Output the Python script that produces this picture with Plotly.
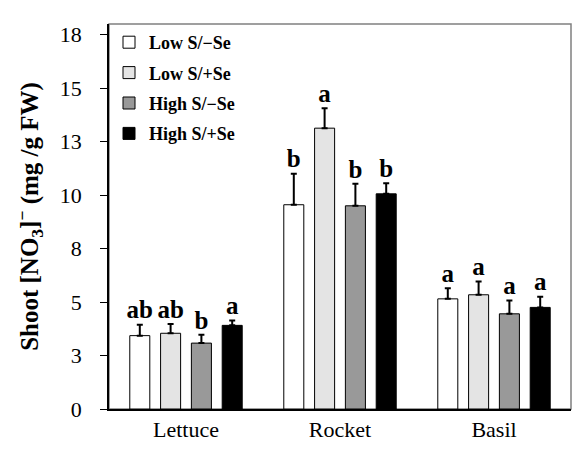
import plotly.graph_objects as go

crops = ['Lettuce', 'Rocket', 'Basil']
treatments = ['Low S/\u2212Se', 'Low S/+Se', 'High S/\u2212Se', 'High S/+Se']
colors = ['#ffffff', '#e4e4e4', '#999999', '#000000']

# mean nitrate (mg/g FW) per treatment, order: Lettuce, Rocket, Basil
low_s_minus_se = [3.43, 9.55, 5.15]
low_s_plus_se = [3.54, 13.13, 5.34]
high_s_minus_se = [3.08, 9.50, 4.45]
high_s_plus_se = [3.91, 10.06, 4.75]

# standard errors
err_low_minus = [0.51, 1.45, 0.50]
err_low_plus = [0.43, 0.93, 0.62]
err_high_minus = [0.39, 1.03, 0.62]
err_high_plus = [0.23, 0.50, 0.50]

# significance letters
let_low_minus = ['ab', 'b', 'a']
let_low_plus = ['ab', 'a', 'a']
let_high_minus = ['b', 'b', 'a']
let_high_plus = ['a', 'b', 'a']

tick_vals = [0, 2.5, 5, 7.5, 10, 12.5, 15, 17.5]
tick_text = ['0', '3', '5', '8', '10', '13', '15', '18']

means = [low_s_minus_se, low_s_plus_se, high_s_minus_se, high_s_plus_se]
errs = [err_low_minus, err_low_plus, err_high_minus, err_high_plus]
letters = [let_low_minus, let_low_plus, let_high_minus, let_high_plus]

serif = 'Liberation Serif, Times New Roman, serif'

fig = go.Figure()
for i, name in enumerate(treatments):
    fig.add_trace(go.Bar(
        x=crops, y=means[i], name=name,
        offsetgroup=str(i), legendgroup=str(i),
        marker=dict(color=colors[i], line=dict(color='black', width=1)),
        error_y=dict(type='data', array=errs[i], arrayminus=[0, 0, 0],
                     symmetric=False, color='black', thickness=2, width=3),
    ))

for i, name in enumerate(treatments):
    fig.add_trace(go.Scatter(
        x=crops, y=[m + e for m, e in zip(means[i], errs[i])],
        mode='text', text=letters[i], textposition='top center',
        textfont=dict(family=serif, size=25, color='black', weight='bold'),
        offsetgroup=str(i), showlegend=False, hoverinfo='skip',
    ))

fig.update_layout(
    width=583, height=456,
    margin=dict(l=101, r=20, t=16, b=55),
    paper_bgcolor='white', plot_bgcolor='white',
    barmode='group', bargap=0.2, bargroupgap=0.35,
    scattermode='group', scattergap=0.2,
    font=dict(family=serif, color='black'),
    showlegend=True,
    legend=dict(x=0.0, y=1.0, xanchor='left', yanchor='top',
                bgcolor='rgba(0,0,0,0)', traceorder='grouped',
                tracegroupgap=4, itemwidth=30,
                font=dict(family=serif, size=18, color='black', weight='bold')),
    xaxis=dict(showline=True, linecolor='black', linewidth=1.5, ticks='',
               tickfont=dict(size=22), showgrid=False),
    yaxis=dict(range=[0, 18], tickvals=tick_vals, ticktext=tick_text,
               ticks='outside', ticklen=7, tickcolor='black',
               ticklabelstandoff=14,
               showline=True, linecolor='black', linewidth=1.5,
               showgrid=False, zeroline=False, tickfont=dict(size=22),
               title=dict(text='Shoot [NO<sub>3</sub>]<sup>\u2212</sup> (mg /g FW)',
                          font=dict(size=25, weight='bold'), standoff=14)),
    shapes=[dict(type='rect', xref='paper', yref='paper', x0=0, x1=1, y0=0, y1=1,
                 line=dict(color='#808080', width=1.5), layer='below')],
)

fig.write_html('out.html')
